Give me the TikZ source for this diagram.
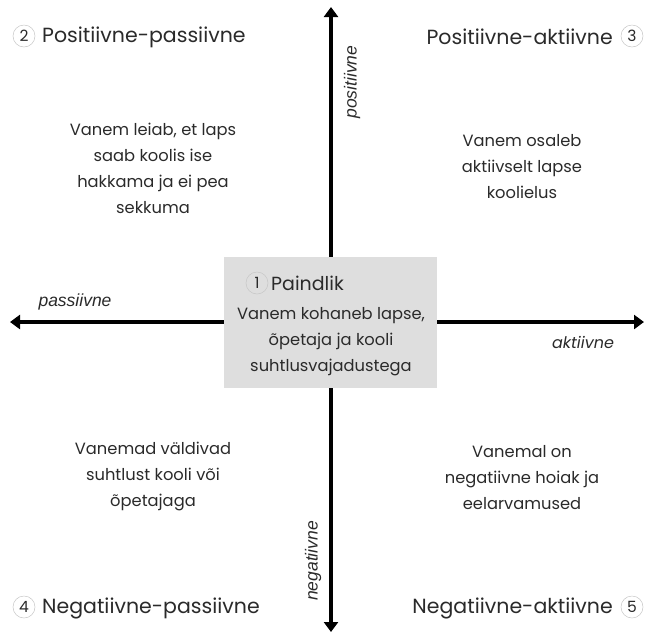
\documentclass[tikz,border=0pt]{standalone}
\usepackage{fontspec}
\setmainfont{Poppins}
\newfontfamily\axfont{Liberation Sans}
\usetikzlibrary{arrows.meta}
\definecolor{txt}{HTML}{2A2A2A}
\definecolor{boxgray}{HTML}{DEDEDE}
\begin{document}
\begin{tikzpicture}[x=1pt,y=-1pt,
  axis/.style={line width=4pt,-{Triangle[length=10pt,width=14pt]},black},
  body/.style={align=center,text=txt,font=\fontsize{16.3}{26}\selectfont},
  title/.style={text=txt,font=\fontsize{20.5}{22}\selectfont,inner sep=0pt},
  num/.style={circle,draw=gray!45,line width=0.5pt,minimum size=22pt,inner sep=0pt,text=txt,font=\fontsize{15.5}{16}\selectfont},
  axlab/.style={text=txt,font=\axfont\itshape\fontsize{17.5}{18}\selectfont,inner sep=0pt}]
\useasboundingbox (0,0) rectangle (646,633);
\coordinate (c) at (331,322);
\coordinate (top) at (331,7);
\coordinate (bot) at (331,632);
\coordinate (lft) at (10,322);
\coordinate (rgt) at (644,322);
\draw[axis] (c) -- (top);
\draw[axis] (c) -- (bot);
\draw[axis] (c) -- (lft);
\draw[axis] (c) -- (rgt);
\node[fill=boxgray,minimum width=213pt,minimum height=131pt,inner sep=0pt] (box) at (330.5,322.5) {};
\node[num] (n1) at (257,283) {1};
\node[title,anchor=west,font=\fontsize{19}{20}\selectfont] (t1) at (271,283) {Paindlik};
\node[body] (b1) at (331,342) {Vanem kohaneb lapse,\\õpetaja ja kooli\\suhtlusvajadustega};
\node[num] (n2) at (24,36) {2};
\node[title,anchor=west] (t2) at (42,37) {Positiivne-passiivne};
\node[num] (n3) at (632,36) {3};
\node[title,anchor=east] (t3) at (613,37) {Positiivne-aktiivne};
\node[num] (n4) at (24,607) {4};
\node[title,anchor=west] (t4) at (42,608) {Negatiivne-passiivne};
\node[num] (n5) at (632,607) {5};
\node[title,anchor=east] (t5) at (613,608) {Negatiivne-aktiivne};
\node[body] (b2) at (153,168) {Vanem leiab, et laps\\saab koolis ise\\hakkama ja ei pea\\sekkuma};
\node[body] (b3) at (522,167) {Vanem osaleb\\aktiivselt lapse\\koolielus};
\node[body] (b4) at (153,476) {Vanemad väldivad\\suhtlust kooli või\\õpetajaga};
\node[body] (b5) at (522,478) {Vanemal on\\negatiivne hoiak ja\\eelarvamused};
\node[axlab,rotate=90] (lp) at (352,82) {positiivne};
\node[axlab,rotate=90] (ln) at (313,561) {negatiivne};
\node[axlab] (la) at (75,302) {passiivne};
\node[axlab,font=\fontsize{16}{18}\selectfont\itshape] (lak) at (583,342) {aktiivne};
\end{tikzpicture}
\end{document}
